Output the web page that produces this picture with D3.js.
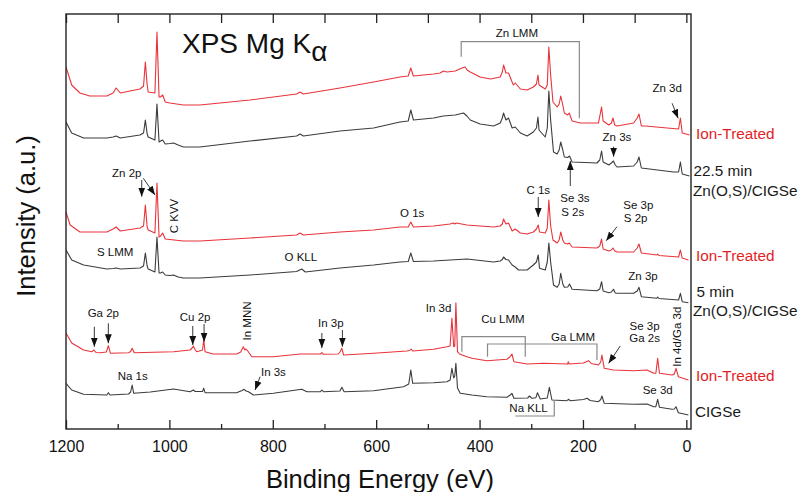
<!DOCTYPE html>
<html><head><meta charset="utf-8">
<script src="https://cdn.jsdelivr.net/npm/d3@7"></script>
<style>body{margin:0;background:#fff}svg{display:block}text{font-family:"Liberation Sans",Arial,sans-serif}</style>
</head><body><svg id="c" width="802" height="492"></svg>
<script>
// ---------- data (Binding energy eV, intensity a.u. incl. stacking offset) ----------
const xMajorTicks = [1200, 1000, 800, 600, 400, 200, 0];
const xMinorTicks = [1100, 900, 700, 500, 300, 100];

const zn22IonTreated = [[1200,362],[1189,344],[1173,336],[1154,333],[1121,333],[1109,336],[1103,341],[1095,336],[1057,340],[1050,343],[1046.5,367],[1043,344],[1041,337],[1028,336],[1024,397],[1020,332],[1017,332],[1013,334],[1008,327],[999,326],[973,324],[941,324],[844,329],[754,335],[747,337],[741,335],[670,341],[605,347],[554,352],[538,353],[533,361],[528,353],[489,355],[476,356],[470,358],[463,357],[447,358],[434,361],[428,362],[424,359],[418,357],[399,352],[379,350],[360,352],[356,357],[353.6,364],[349,356],[344,356],[337,347],[334.5,344],[331,346],[321,340],[308,339],[296,342],[290,345],[287,354],[285,344],[273,340],[269,344],[266,382],[262.5,354],[258,327],[250,322],[246,325],[243,333],[239,324],[236,316],[229.5,314],[226.6,316],[221,308],[205,306],[170,306],[167,314],[164,322],[161,308],[150,304],[145,306],[142,311],[138.5,304],[134,303],[102,306],[95,311],[91.6,315],[87,303],[79,303],[37,301],[15,300],[11.5,311],[8,296],[-6,294]];

const zn22Asdep = [[1200,307],[1189,296],[1166,291],[1121,291],[1109,292],[1103,293],[1095,291],[1057,294],[1050,296],[1046.5,309],[1043,295],[1041,292],[1028,289],[1024,325],[1020,287],[1017,288],[1013,289],[1008,285],[999,285.5],[992,286],[983,284],[973,282],[941,282],[844,288],[754,293],[747,295],[741,293],[670,298],[605,301],[554,307],[538,308],[533,319],[528,309],[489,311],[470,313],[447,314],[431,316],[424.5,313],[418,309],[399,305],[373,303],[360,306],[356,311],[353.6,316],[349,309],[344,311],[337,301],[331,302],[321,296],[308,293],[296,297],[290,301],[287,312],[285,299],[273,292],[269,301],[266,338],[262.5,309],[257,277],[250,275],[246,279],[243,287],[239,279],[236,272],[229.5,271.5],[226,273],[221,267],[173,266],[167.5,269],[164,278],[161,267],[150,264],[145,266],[141,268],[137.5,264],[134,262],[102,263],[95,267],[91.6,272],[87,261],[79,260.5],[25,257],[15,257],[11.5,267],[8,255],[-6,253]];

const zn5IonTreated = [[1200,217],[1192,204],[1173,197],[1121,197],[1109,200],[1103,202],[1095,198],[1057,201],[1050,203],[1046.5,224],[1043,202],[1041,199],[1028,196],[1024,246],[1020,192],[1017,193],[1013,196],[1008,190],[973,188],[941,188],[844,191],[754,194],[747,196],[741,194],[670,197],[605,199],[554,202],[538,202],[533,207],[528,202],[489,203],[457,205],[451,206],[448,205],[445,206],[424.5,204],[399,203],[373,202],[360,203],[356,205],[353.6,210],[349,205],[344,206],[337,198],[331,200],[321,196],[308,195],[296,197],[290,200],[286.5,204],[284,197],[273,196],[269,201],[266,229],[262.5,203],[258,189],[250,186],[246,189],[243,197],[239,189],[236,186],[229.5,185],[226.6,186],[221,182],[173,181],[167.5,183],[164,190],[161,180],[150,178],[145,179],[142,181],[138.5,178],[134,177],[102,177],[95,181],[91.6,185],[87,176],[57,174],[55.5,175],[53,173.5],[15,172],[11.5,179],[8,171],[-4,169]];

const zn5Asdep = [[1200,179],[1189,169],[1166,164],[1121,160],[1109,160.5],[1103,161],[1095,160],[1057,161],[1050,163],[1046.5,176],[1043,163],[1041,160],[1028,157],[1024,192],[1020,156],[1017,156],[1013,157],[1008,154],[999,153.5],[992,154],[983,152],[973,151],[941,151],[844,154],[754,157.5],[744,160],[737,157],[670,161],[605,164],[554,167],[538,167.5],[533,176],[528,167.5],[489,168],[424.5,170],[373,167],[360,168],[356,169.5],[353.6,172],[349,169.5],[344,169],[337,164],[331,162],[324.6,159],[308,159],[296,164],[290,167],[286.5,174],[284,160.7],[273,159],[269,167],[266,186],[262.5,167],[257,144],[250,141.7],[246,145],[243,155.7],[239,145],[236,141.7],[229.5,142],[226,145],[221,139.7],[173,138.3],[167.5,140],[164,147.3],[161,138],[150,136.3],[145,137],[141,139.7],[137.5,136],[134,135.7],[102,135.7],[95,138],[91.6,141.7],[87,132.3],[57,130.7],[55.5,132],[53,130.5],[15,129],[11.5,135.7],[8,127.3],[-4,126.3]];

const cigsIonTreated = [[1200,96],[1189,86],[1166,79],[1150,77.3],[1146,79],[1142,76.5],[1134,76.3],[1122,77],[1118,83.3],[1114,75.7],[1079,76.3],[1075,77.5],[1072,80.7],[1068,76.3],[992,77.3],[960,79],[956,81],[953.6,83],[950,79],[947,77.3],[936,79],[933.5,89],[931,77.3],[915,75],[870,75],[862,77],[857,82.3],[854,79],[851.6,80],[849,78.5],[840.6,72.3],[799,72.3],[747,75],[708,75],[705,76.3],[702,74.7],[673.6,75],[670,77],[666.4,80.7],[663,74],[605,75.7],[540.6,78],[535,78.5],[532.3,80],[529.4,78],[489,79.7],[463,82.3],[457,83],[453.5,110.7],[450,82.3],[448,83],[445.8,126.3],[442.7,77.3],[438.8,75],[424.5,72.3],[414.8,70.7],[386,68.3],[347,69.7],[341.5,72],[337.4,75],[333.6,67.3],[308,65],[276,65.7],[229.7,65],[228.4,67.3],[226.6,65],[199.4,66],[189,68.3],[184,65.5],[170,64],[165.6,67],[163.3,74],[158.8,60.7],[141,59],[102,58.3],[76,59],[63,55.7],[59,55.7],[55.5,70.7],[52,55.7],[27.7,54],[23.2,55],[20,60.7],[15.5,52.3],[-4,49]];

const cigsAsGrown = [[1200,45.7],[1189,39],[1166,34.7],[1121,34],[1118,36.3],[1115,34],[1079,35],[1075,37],[1072,44],[1069,35.7],[1037,37],[992,40],[960,37.3],[953.6,39],[950,37.5],[936,37.5],[933.5,40.7],[931,36.3],[870,36.3],[859.4,38.5],[855.5,39.7],[851.6,38],[847,37.3],[837.5,34],[799,35.7],[744,39.7],[734,37.3],[708,37.3],[705,39],[702,37.3],[670,38],[666.4,41.7],[662,37.3],[605,38.3],[547,42.3],[537,45],[533,59],[529.4,45.7],[489,46.3],[463,47.3],[457,49],[453.5,60.7],[450,51],[448,53],[445.8,65.7],[442.7,41],[437.5,35.7],[414.8,34],[386,32.3],[347,31.7],[340.7,34],[337.4,35.7],[333.6,30.7],[307,31],[303.3,33],[298.7,30.7],[291,31.3],[288,36.3],[282.6,30],[269,31],[265,41.7],[260,29],[231,28.3],[228,29.7],[224.5,28.3],[199,29.5],[192,30.7],[186,28.5],[170,27.3],[165.6,29.5],[163.3,33],[158.8,25.7],[102,24.7],[76,25],[63,22.3],[59,22.3],[55.5,29.7],[52,21.7],[27.7,19.7],[23.2,20],[20,22.3],[15.5,16.3],[-4,14]];

const seriesList = [
  {name: "22.5 min ion-treated", data: zn22IonTreated, kind: "ion"},
  {name: "22.5 min Zn(O,S)/CIGSe", data: zn22Asdep, kind: "asdep"},
  {name: "5 min ion-treated", data: zn5IonTreated, kind: "ion"},
  {name: "5 min Zn(O,S)/CIGSe", data: zn5Asdep, kind: "asdep"},
  {name: "CIGSe ion-treated", data: cigsIonTreated, kind: "ion"},
  {name: "CIGSe", data: cigsAsGrown, kind: "asdep"}
];

// sample labels at right: [text, intensity level, kind, extra indent]
const sampleLabels = [
  ["Ion-Treated", 295.7, "ion", 5], ["22.5 min", 259, "asdep", 2.5], ["Zn(O,S)/CIGSe", 238.5, "asdep", 2],
  ["Ion-Treated", 174, "ion", 5], ["5 min", 137.5, "asdep", 5.5], ["Zn(O,S)/CIGSe", 119, "asdep", 2],
  ["Ion-Treated", 54, "ion", 5], ["CIGSe", 17.3, "asdep", 4]
];

// peak annotations: [text, BE, intensity, anchor, rotated]
const peakLabels = [
  ["Zn LMM", 327.8, 395.7, "middle", false],
  ["Zn 3d", 37.2, 340.7, "middle", false],
  ["Zn 3s", 134.2, 292.3, "middle", false],
  ["Se 3s", 244, 231, "start", false],
  ["S 2s", 242, 217.5, "start", false],
  ["C 1s", 286.5, 239.5, "middle", false],
  ["Se 3p", 122, 224.5, "start", false],
  ["S 2p", 121, 211, "start", false],
  ["Zn 2p", 1082.5, 255.7, "middle", false],
  ["C KVV", 992.3, 213, "middle", true],
  ["O 1s", 530.4, 216, "middle", false],
  ["S LMM", 1105, 177.3, "middle", false],
  ["O KLL", 745.8, 172.3, "middle", false],
  ["Zn 3p", 83.9, 153, "middle", false],
  ["Ga 2p", 1127.8, 115.7, "middle", false],
  ["Cu 2p", 950.3, 111.7, "middle", false],
  ["In MNN", 850.3, 108, "middle", true],
  ["In 3p", 687.7, 106.3, "middle", false],
  ["Na 1s", 1070.9, 53, "middle", false],
  ["In 3s", 798.8, 57.3, "middle", false],
  ["In 3d", 479.4, 120.7, "middle", false],
  ["Cu LMM", 354.8, 110, "middle", false],
  ["Ga LMM", 219.3, 92.3, "middle", false],
  ["Se 3p", 80.8, 103, "middle", false],
  ["Ga 2s", 80.8, 90.7, "middle", false],
  ["In 4d/Ga 3d", 18.1, 92.3, "middle", true],
  ["Se 3d", 55.5, 39, "middle", false],
  ["Na KLL", 305.3, 20.7, "middle", false]
];

// arrows: [BE from, I from, BE to, I to]
const arrows = [
  [27.5, 325.7, 15.9, 310.7],
  [140.7, 282.3, 140.7, 272.3],
  [224.5, 243, 224.5, 268],
  [286.5, 232, 286.5, 212],
  [134.2, 202.3, 155, 188.3],
  [1053.5, 249, 1053.5, 232.3],
  [1050.4, 250.7, 1027.8, 234],
  [1145.2, 102.3, 1145.2, 82.3],
  [1118.1, 105.7, 1118.1, 85.7],
  [954.8, 103, 954.8, 84],
  [932.9, 105, 932.9, 87.3],
  [705.1, 96, 705.1, 81],
  [665.3, 99, 665.3, 82.3],
  [824.5, 52.3, 834.2, 39],
  [127.8, 83, 150.4, 65.7]
];

// brackets: [[BE,I], ...] polylines
const brackets = [
  [[435.5, 372.3], [435.5, 387.3], [207, 387.3], [207, 310.7]],
  [[434.2, 77.3], [434.2, 92.3], [311.6, 92.3], [311.6, 72.3]],
  [[384.6, 72.3], [384.6, 85], [172.9, 85], [172.9, 69]],
  [[331, 13], [255.5, 13], [255.5, 29]]
];

// ---------- drawing ----------
const svg = d3.select("#c");
const pLeft = 66, pRight = 691, pTop = 14, pBottom = 429;
const x = d3.scaleLinear().domain([1200, -9]).range([pLeft, pRight]);
const y = d3.scaleLinear().domain([0, 415]).range([pBottom, pTop]);
const color = {ion: "#e8333a", asdep: "#3c3c3c"};
const textColor = {ion: "#e41e26", asdep: "#1a1a1a"};

const defs = svg.append("defs");
defs.append("clipPath").attr("id", "clip")
  .append("rect").attr("x", pLeft).attr("y", pTop).attr("width", pRight - pLeft).attr("height", pBottom - pTop);
const marker = defs.append("marker").attr("id", "ah")
  .attr("viewBox", "0 0 10 10").attr("refX", 10).attr("refY", 5)
  .attr("markerWidth", 9).attr("markerHeight", 9).attr("markerUnits", "userSpaceOnUse")
  .attr("orient", "auto");
marker.append("path").attr("d", "M0,1.2 L10,5 L0,8.8 Z").attr("fill", "#111");

const line = d3.line().x(d => x(d[0])).y(d => y(d[1]));
svg.append("g").attr("clip-path", "url(#clip)").selectAll("path").data(seriesList).join("path")
  .attr("d", d => line(d.data)).attr("fill", "none")
  .attr("stroke", d => color[d.kind]).attr("stroke-width", 1.1).attr("stroke-linejoin", "round");

// brackets
const bLine = d3.line().x(p => x(p[0])).y(p => y(p[1]));
svg.append("g").selectAll("path").data(brackets).join("path")
  .attr("d", d => bLine(d))
  .attr("fill", "none").attr("stroke", "#8a8a8a").attr("stroke-width", 1.2);

// arrows
svg.append("g").selectAll("line").data(arrows).join("line")
  .attr("x1", d => x(d[0])).attr("y1", d => y(d[1])).attr("x2", d => x(d[2])).attr("y2", d => y(d[3]))
  .attr("stroke", "#222").attr("stroke-width", 0.9).attr("marker-end", "url(#ah)");

// peak labels
svg.append("g").selectAll("text").data(peakLabels).join("text")
  .attr("transform", d => `translate(${x(d[1])},${y(d[2])})` + (d[4] ? " rotate(-90)" : ""))
  .attr("text-anchor", d => d[3]).attr("dy", "0.36em")
  .attr("font-size", "11.5px").attr("fill", "#111").text(d => d[0]);

// axes frame
const axisG = svg.append("g");
const bottomAxis = d3.axisBottom(x).tickValues(xMajorTicks).tickSizeInner(-9).tickSizeOuter(0).tickPadding(12).tickFormat(d3.format("d"));
const gb = axisG.append("g").attr("transform", `translate(0,${pBottom})`).call(bottomAxis);
gb.select(".domain").remove();
gb.selectAll("text").attr("font-size", "16px").attr("fill", "#111").attr("font-family", '"Liberation Sans",Arial,sans-serif');
const gbm = axisG.append("g").attr("transform", `translate(0,${pBottom})`)
  .call(d3.axisBottom(x).tickValues(xMinorTicks).tickSizeInner(-5).tickSizeOuter(0).tickFormat(""));
gbm.select(".domain").remove();
const gt = axisG.append("g").attr("transform", `translate(0,${pTop})`)
  .call(d3.axisTop(x).tickValues(xMajorTicks.concat(xMinorTicks)).tickSizeInner(-9).tickSizeOuter(0).tickFormat(""));
gt.select(".domain").remove();
axisG.selectAll(".tick line").attr("stroke", "#222").attr("stroke-width", 1.3);
axisG.append("rect").attr("x", pLeft).attr("y", pTop).attr("width", pRight - pLeft).attr("height", pBottom - pTop)
  .attr("fill", "none").attr("stroke", "#222").attr("stroke-width", 1.4);

// axis titles
svg.append("text").attr("x", 380).attr("y", 488).attr("text-anchor", "middle")
  .attr("font-size", "25.5px").attr("fill", "#111").text("Binding Energy (eV)");
svg.append("text").attr("transform", "translate(35,216) rotate(-90)").attr("text-anchor", "middle")
  .attr("font-size", "25.5px").attr("fill", "#111").text("Intensity (a.u.)");

// chart title
const title = svg.append("text").attr("x", 182).attr("y", 52.5).attr("font-size", "28px").attr("fill", "#111");
title.append("tspan").text("XPS Mg K");
title.append("tspan").attr("dy", 8).text("\u03b1");

// sample labels
svg.append("g").selectAll("text").data(sampleLabels).join("text")
  .attr("x", d => pRight + d[3]).attr("y", d => y(d[1])).attr("dy", "0.36em")
  .attr("font-size", "15.3px").attr("fill", d => textColor[d[2]]).text(d => d[0]);
</script></body></html>
